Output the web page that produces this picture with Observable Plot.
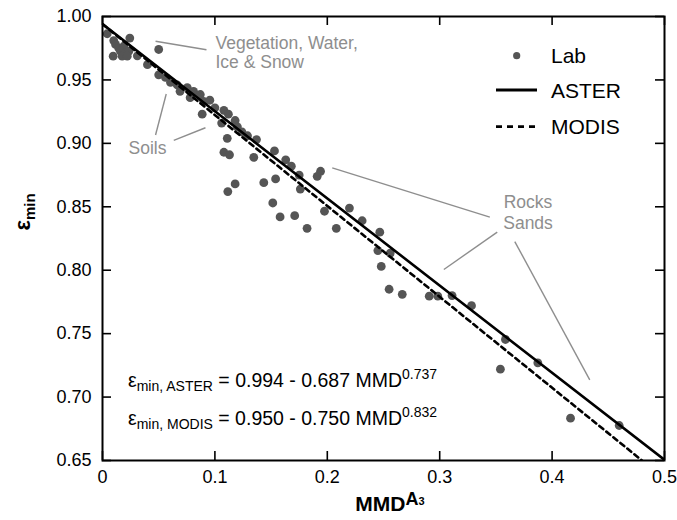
<!DOCTYPE html>
<html><head><meta charset="utf-8">
<script src="https://cdn.jsdelivr.net/npm/d3@7"></script>
<script src="https://cdn.jsdelivr.net/npm/@observablehq/plot@0.6"></script>
<style>
body{margin:0;background:#fff}
#chart{position:relative;width:677px;height:520px}
</style>
</head><body><div id="chart"></div>
<script>
// ---- data ----
const labX = [0.0042,0.0100,0.0116,0.0145,0.0190,0.0160,0.0205,0.0175,0.0234,0.0220,0.0095,0.0243,0.0500,
  0.031,0.040,0.050,0.056,0.0605,0.0665,0.069,0.0754,0.081,0.087,0.078,0.090,0.0887,0.0955,0.100,0.108,0.112,0.106,0.118,
  0.120,0.124,0.129,0.111,0.137,0.108,0.113,0.1346,0.153,0.163,0.168,0.175,0.154,0.1435,0.118,0.1115,0.191,0.194,0.176,
  0.1515,0.158,0.171,0.182,0.1975,0.2197,0.208,0.231,0.2467,0.245,0.256,0.248,0.255,0.2667,0.2907,0.2983,0.311,0.3283,
  0.3585,0.354,0.3873,0.4164,0.4597];
const labY = [0.9864,0.9810,0.9780,0.9750,0.9766,0.9726,0.9714,0.9687,0.9726,0.9687,0.9687,0.9830,0.9740,
  0.969,0.962,0.954,0.952,0.948,0.946,0.941,0.944,0.941,0.9385,0.936,0.933,0.923,0.934,0.928,0.926,0.923,0.916,0.918,
  0.913,0.909,0.906,0.904,0.903,0.893,0.891,0.889,0.894,0.887,0.882,0.875,0.872,0.869,0.868,0.862,0.874,0.878,0.864,
  0.853,0.842,0.843,0.833,0.8465,0.849,0.833,0.839,0.830,0.8155,0.8135,0.803,0.785,0.781,0.7795,0.7795,0.780,0.772,
  0.7454,0.722,0.727,0.6834,0.6776];
const asterX = [0, 0.5];
const asterY = [0.994, 0.6505];
const modisX = [0, 0.48];
const modisY = [0.994, 0.65];
const xTicks = [0, 0.1, 0.2, 0.3, 0.4, 0.5];
const yTicks = [0.65, 0.70, 0.75, 0.80, 0.85, 0.90, 0.95, 1.00];
const seriesNames = ["Lab", "ASTER", "MODIS"];
// annotation texts and leader lines (data coordinates)
const noteText = ["Vegetation, Water,\nIce & Snow", "Soils", "Rocks\nSands"];
const noteX = [0.1005, 0.040, 0.3786];
const noteY = [0.9715, 0.8958, 0.846];
const leadX1 = [0.0472, 0.0472, 0.0634, 0.2044, 0.3037, 0.3668];
const leadY1 = [0.9805, 0.9066, 0.9023, 0.8807, 0.8006, 0.8226];
const leadX2 = [0.0925, 0.0567, 0.0916, 0.3446, 0.3512, 0.4335];
const leadY2 = [0.9738, 0.9389, 0.9123, 0.8418, 0.8300, 0.7136];
// equations
const eqSub = ["min, ASTER", "min, MODIS"];
const eqBody = [" = 0.994 - 0.687 MMD", " = 0.950 - 0.750 MMD"];
const eqExp = ["0.737", "0.832"];
const eqX = [0.0231, 0.0231];
const eqY = [0.7076, 0.6776];

const lab = labX.map((x, i) => ({x, y: labY[i]}));
const aster = asterX.map((x, i) => ({x, y: asterY[i]}));
const modis = modisX.map((x, i) => ({x, y: modisY[i]}));
const notes = noteText.map((t, i) => ({t, x: noteX[i], y: noteY[i]}));
const leads = leadX1.map((x1, i) => ({x1, y1: leadY1[i], x2: leadX2[i], y2: leadY2[i]}));

const W = 677, H = 520, mL = 102, mR = 13, mT = 16, mB = 60;
const ph = H - mT - mB, pw = W - mL - mR;
const FONT = "'Liberation Sans', Arial, sans-serif";
const gray = "#8e8e8e";

const plot = Plot.plot({
  width: W, height: H,
  marginLeft: mL, marginRight: mR, marginTop: mT, marginBottom: mB,
  x: {domain: [0, 0.5]},
  y: {domain: [0.65, 1.0]},
  style: {fontFamily: FONT, fontSize: "18px", color: "black", background: "white"},
  marks: [
    Plot.axisX({ticks: xTicks, tickSize: 0, tickPadding: 10, label: null,
      tickFormat: d => d === 0 ? "0" : String(d)}),
    Plot.axisY({ticks: yTicks, tickSize: 0, tickPadding: 11, label: null,
      tickFormat: d => d.toFixed(2)}),
    Plot.tickX(xTicks, {x: d => d, insetTop: ph - 9, stroke: "black", strokeWidth: 1.6}),
    Plot.tickX(xTicks, {x: d => d, insetBottom: ph - 9, stroke: "black", strokeWidth: 1.6}),
    Plot.tickY(yTicks, {y: d => d, insetRight: pw - 9, stroke: "black", strokeWidth: 1.6}),
    Plot.tickY(yTicks, {y: d => d, insetLeft: pw - 9, stroke: "black", strokeWidth: 1.6}),
    Plot.link(leads, {x1: "x1", y1: "y1", x2: "x2", y2: "y2", stroke: gray, strokeWidth: 1.4}),
    Plot.text(notes.slice(0, 1), {x: "x", y: "y", text: "t", textAnchor: "start", fill: gray, fontSize: 17.5, lineHeight: 1.06}),
    Plot.text(notes.slice(1, 2), {x: "x", y: "y", text: "t", textAnchor: "middle", fill: gray, fontSize: 17.5}),
    Plot.text(notes.slice(2, 3), {x: "x", y: "y", text: "t", textAnchor: "middle", fill: gray, fontSize: 17.5, lineHeight: 1.18}),
    Plot.dot(lab, {x: "x", y: "y", r: 4.4, fill: "#555", stroke: "none"}),
    Plot.line(modis, {x: "x", y: "y", stroke: "black", strokeWidth: 2.6, strokeDasharray: "5,4", clip: true}),
    Plot.line(aster, {x: "x", y: "y", stroke: "black", strokeWidth: 2.6, clip: true}),
    Plot.frame({stroke: "black", strokeWidth: 2})
  ]
});
document.getElementById("chart").appendChild(plot);

const svg = d3.select(plot);
const sx = plot.scale("x"), sy = plot.scale("y");

// equations
eqSub.forEach((s, i) => {
  const t = svg.append("text").attr("x", sx.apply(eqX[i])).attr("y", sy.apply(eqY[i]))
    .attr("text-anchor", "start")
    .attr("font-family", FONT).attr("font-size", 19.5).attr("fill", "black");
  t.append("tspan").text("ε");
  t.append("tspan").attr("font-size", 14).attr("dy", 4).text(s);
  t.append("tspan").attr("dy", -4).text(eqBody[i]);
  t.append("tspan").attr("font-size", 14).attr("dy", -8).text(eqExp[i]);
});

// axis titles
const xt = svg.append("text").attr("x", 390).attr("y", 511).attr("text-anchor", "middle")
  .attr("font-family", FONT).attr("font-weight", "bold").attr("font-size", 21).attr("fill", "black");
xt.append("tspan").text("MMD");
xt.append("tspan").attr("font-size", 18).attr("dy", -6).text("A");
xt.append("tspan").attr("font-size", 11).text("3");

const yt = svg.append("text").attr("transform", "translate(30,212) rotate(-90)").attr("text-anchor", "middle")
  .attr("font-family", FONT).attr("font-weight", "bold").attr("font-size", 22).attr("fill", "black");
yt.append("tspan").text("ε");
yt.append("tspan").attr("font-size", 15).attr("dy", 5).text("min");

// legend
const lg = svg.append("g").attr("font-family", FONT).attr("font-size", 21).attr("text-anchor", "start").attr("fill", "black");
lg.append("circle").attr("cx", 516.7).attr("cy", 55.7).attr("r", 3.6).attr("fill", "#555");
lg.append("line").attr("x1", 496).attr("x2", 537).attr("y1", 90).attr("y2", 90).attr("stroke", "black").attr("stroke-width", 2.8);
lg.append("line").attr("x1", 496).attr("x2", 537).attr("y1", 126.7).attr("y2", 126.7).attr("stroke", "black").attr("stroke-width", 2.8).attr("stroke-dasharray", "6,5");
[63.3, 98.3, 134.3].forEach((y, i) => lg.append("text").attr("x", 551).attr("y", y).text(seriesNames[i]));
</script>
</body></html>
